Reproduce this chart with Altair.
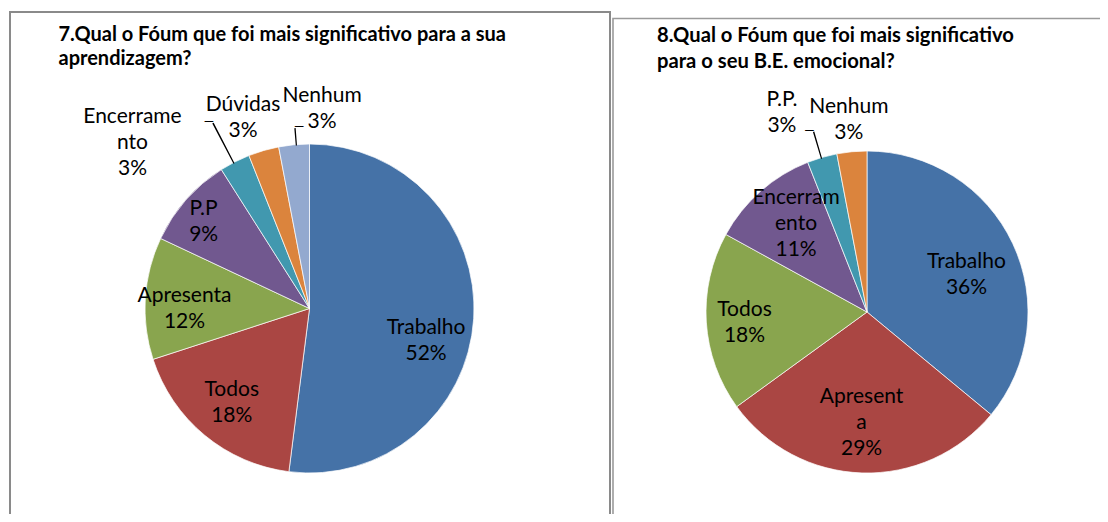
import altair as alt
import pandas as pd

# ---------------- data ----------------
title1 = ["7.Qual o Fóum que foi mais significativo para a sua", "aprendizagem?"]
cats1 = ["Trabalho", "Todos", "Apresenta", "P.P", "Encerramento", "Dúvidas", "Nenhum"]
pct1 = [52, 18, 12, 9, 3, 3, 3]

title2 = ["8.Qual o Fóum que foi mais significativo", "para o seu B.E. emocional?"]
cats2 = ["Trabalho", "Apresenta", "Todos", "Encerramento", "P.P.", "Nenhum"]
pct2 = [36, 29, 18, 11, 3, 3]

# ---------------- styles / layout ----------------
palette = ["#4572A7", "#AA4643", "#89A54E", "#71588F", "#4198AF", "#DB843D", "#93A9CF"]
FONT = "Lato, sans-serif"
LABEL_SIZE = 21
LABEL_LH = 26
DEG = 100 / 360.0  # theta units (percent) per degree

# label placement relative to slice mid-angle: (angle shift in degrees, radius px)
layout1 = {"Trabalho": (12, 121), "Todos": (0, 122), "Apresenta": (-4, 125), "P.P": (-2, 137),
           "Encerramento": (-20, 242), "Dúvidas": (-3, 202), "Nenhum": (9, 200)}
layout2 = {"Trabalho": (5, 106), "Apresenta": (1, 111), "Todos": (-1.5, 123),
           "Encerramento": (2.5, 113), "P.P.": (-7, 216), "Nenhum": (0, 193)}
# leader lines: category -> (angle shift deg, outer radius px, stub side)
leaders1 = {"Encerramento": (-0.5, 209, "left"), "Nenhum": (0.8, 181, "right")}
leaders2 = {"P.P.": (-0.3, 188, "left")}

theta_scale = alt.Scale(domain=[0, 100])


def wrap(name, n):
    return [name[i:i + n] for i in range(0, len(name), n)]


def make_pie(cats, pct, cx, cy, R, wrapn, layout, leaders):
    df = pd.DataFrame({"cat": cats, "pct": pct})
    df["order"] = range(len(cats))
    df["color"] = palette[:len(cats)]
    cum = df["pct"].cumsum()
    df["mid"] = cum - df["pct"] / 2
    df["lab_theta"] = [m + layout[c][0] * DEG for m, c in zip(df["mid"], df["cat"])]
    df["lab_r"] = [layout[c][1] for c in df["cat"]]
    lines_ = [wrap(c, wrapn) + [f"{p}%"] for c, p in zip(df["cat"], df["pct"])]
    df["label"] = ["\n".join(l) for l in lines_]
    df["nlines"] = [len(l) for l in lines_]

    arcs = alt.Chart(df).mark_arc(radius=R, stroke="white", strokeWidth=0.7).encode(
        theta=alt.Theta("pct:Q", stack=True, scale=theta_scale),
        order=alt.Order("order:Q"),
        color=alt.Color("color:N", scale=None),
        x=alt.value(cx), y=alt.value(cy),
    )
    texts = []
    for n in sorted(df["nlines"].unique()):
        sub = df[df["nlines"] == n]
        texts.append(alt.Chart(sub).mark_text(
            font=FONT, fontSize=LABEL_SIZE, lineBreak="\n", lineHeight=LABEL_LH,
            align="center", baseline="middle", color="#000000",
            dy=-(int(n) - 1) * LABEL_LH / 2).encode(
            theta=alt.Theta("lab_theta:Q", stack=None, scale=theta_scale),
            radius=alt.Radius("lab_r:Q", scale=None),
            text="label:N",
            x=alt.value(cx), y=alt.value(cy),
        ))
    ld = df[df["cat"].isin(leaders.keys())].copy()
    ld["la"] = [m + leaders[c][0] * DEG for m, c in zip(ld["mid"], ld["cat"])]
    ld["ta"] = ld["la"] - 0.06
    ld["tb"] = ld["la"] + 0.06
    ld["r0"] = R - 1
    ld["r1"] = [leaders[c][1] for c in ld["cat"]]
    ld["side"] = [leaders[c][2] for c in ld["cat"]]
    lines = alt.Chart(ld).mark_arc(color="#000000").encode(
        theta=alt.Theta("ta:Q", stack=None, scale=theta_scale), theta2="tb:Q",
        radius=alt.Radius("r0:Q", scale=None), radius2="r1:Q",
        x=alt.value(cx), y=alt.value(cy),
    )
    stubs = []
    for side in ["left", "right"]:
        sd = ld[ld["side"] == side]
        if len(sd) == 0:
            continue
        stubs.append(alt.Chart(sd).mark_text(text="\u2014", font=FONT, fontSize=13,
                                             align="right" if side == "left" else "left",
                                             baseline="middle", color="#000000", dy=-1,
                                             dx=1 if side == "left" else -1).encode(
            theta=alt.Theta("la:Q", stack=None, scale=theta_scale),
            radius=alt.Radius("r1:Q", scale=None),
            x=alt.value(cx), y=alt.value(cy),
        ))
    return [arcs, lines] + stubs + texts


dummy = pd.DataFrame({"k": [0]})
box1 = alt.Chart(dummy).mark_rect(fill="white", stroke="#8a8a8a", strokeWidth=2).encode(
    x=alt.value(2), x2=alt.value(602), y=alt.value(4), y2=alt.value(560))
box2 = alt.Chart(dummy).mark_rect(fill="white", stroke="#9a9a9a", strokeWidth=1.6).encode(
    x=alt.value(605), x2=alt.value(1130), y=alt.value(10.5), y2=alt.value(560))

t1 = alt.Chart(pd.DataFrame({"t": ["\n".join(title1)]})).mark_text(
    font=FONT, fontSize=20, fontWeight="bold", lineBreak="\n", lineHeight=24,
    align="left", baseline="middle", color="#000000").encode(
    text="t:N", x=alt.value(50.5), y=alt.value(27))
t2 = alt.Chart(pd.DataFrame({"t": ["\n".join(title2)]})).mark_text(
    font=FONT, fontSize=20.2, fontWeight="bold", lineBreak="\n", lineHeight=26,
    align="left", baseline="middle", color="#000000").encode(
    text="t:N", x=alt.value(649), y=alt.value(28))

layers = [box1, box2, t1, t2]
layers += make_pie(cats1, pct1, 301.5, 300.5, 164.5, 9, layout1, leaders1)
layers += make_pie(cats2, pct2, 859, 304, 161, 8, layout2, leaders2)

chart = alt.layer(*layers).properties(
    width=1092, height=506, padding=0,
    autosize=alt.AutoSizeParams(type="none"),
).configure_view(stroke=None)

chart.save("out.html", embed_options={"renderer": "svg", "actions": False})
